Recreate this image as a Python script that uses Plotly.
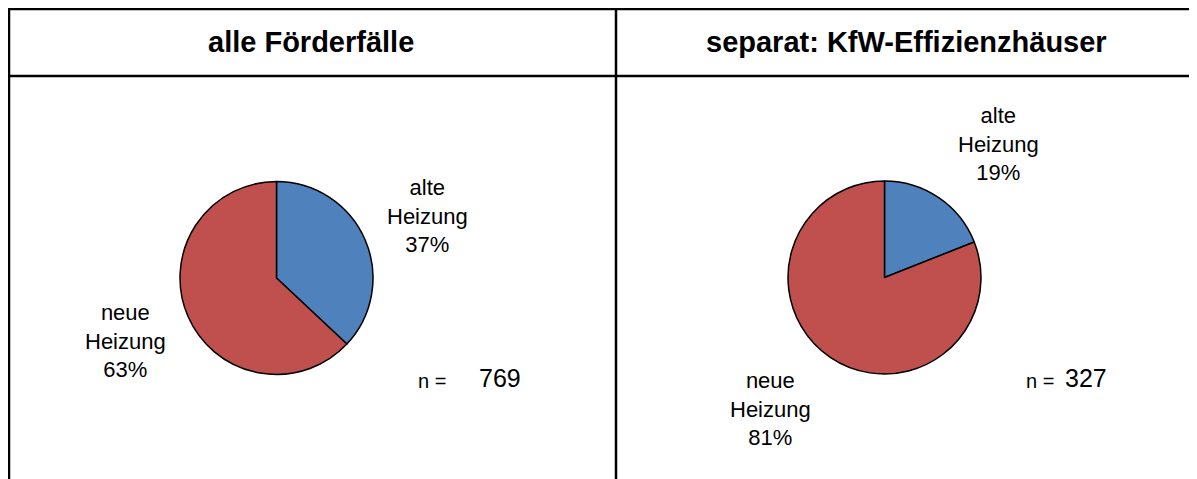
import plotly.graph_objects as go

W, H = 1197, 479
OFF = 8  # page body margin offset

titles = ["alle Förderfälle", "separat: KfW-Effizienzhäuser"]
labels = ["alte<br>Heizung", "neue<br>Heizung"]
values_all = [37, 63]
values_kfw = [19, 81]
n_values = [769, 327]
colors = ["#4F81BD", "#C0504D"]

FONT = "Liberation Sans, Arial, sans-serif"

def px(x):
    return (x - OFF) / W

def py(y):
    return 1 - (y - OFF) / H

fig = go.Figure()

pie_boxes = [(180, 373, 181, 375), (788, 981, 181, 374)]
for vals, (x0, x1, y0, y1) in zip([values_all, values_kfw], pie_boxes):
    fig.add_trace(go.Pie(
        labels=["alte Heizung", "neue Heizung"],
        values=vals,
        sort=False,
        direction="clockwise",
        rotation=0,
        marker=dict(colors=colors, line=dict(color="black", width=1.5)),
        textinfo="none",
        hoverinfo="label+percent",
        showlegend=False,
        domain=dict(x=[px(x0), px(x1)], y=[py(y1), py(y0)]),
    ))

annotations = []
for t, cx in zip(titles, [311, 906]):
    annotations.append(dict(x=px(cx), y=py(42), xref="paper", yref="paper",
                            text=f"<b>{t}</b>", showarrow=False,
                            font=dict(family=FONT, size=29, color="black"),
                            xanchor="center", yanchor="middle"))

label_pos = [
    [(427, 216), (125, 341)],
    [(998, 144), (770, 409)],
]
for vals, positions in zip([values_all, values_kfw], label_pos):
    for lab, v, (cx, cy) in zip(labels, vals, positions):
        annotations.append(dict(x=px(cx), y=py(cy), xref="paper", yref="paper",
                                text=f"{lab}<br>{v}%", showarrow=False,
                                font=dict(family=FONT, size=22, color="black"),
                                xanchor="center", yanchor="middle"))

n_pos = [((432, 381), (500, 378)), ((1040, 381), (1086, 378))]
for n, ((nx, ny), (vx, vy)) in zip(n_values, n_pos):
    annotations.append(dict(x=px(nx), y=py(ny), xref="paper", yref="paper",
                            text="n =", showarrow=False,
                            font=dict(family=FONT, size=20, color="black"),
                            xanchor="center", yanchor="middle"))
    annotations.append(dict(x=px(vx), y=py(vy), xref="paper", yref="paper",
                            text=str(n), showarrow=False,
                            font=dict(family=FONT, size=25, color="black"),
                            xanchor="center", yanchor="middle"))

line = dict(color="black", width=2.5)
edge = dict(color="black", width=4.5)
shapes = [
    dict(type="line", xref="paper", yref="paper", x0=px(7), x1=1, y0=1, y1=1, line=edge),
    dict(type="line", xref="paper", yref="paper", x0=px(7), x1=1, y0=py(76), y1=py(76), line=line),
    dict(type="line", xref="paper", yref="paper", x0=0, x1=0, y0=1, y1=0, line=edge),
    dict(type="line", xref="paper", yref="paper", x0=px(616), x1=px(616), y0=1, y1=0, line=line),
]

fig.update_layout(
    width=W, height=H,
    margin=dict(l=0, r=0, t=0, b=0),
    paper_bgcolor="white",
    plot_bgcolor="white",
    annotations=annotations,
    shapes=shapes,
    font=dict(family=FONT),
)

fig.write_html("out.html")
